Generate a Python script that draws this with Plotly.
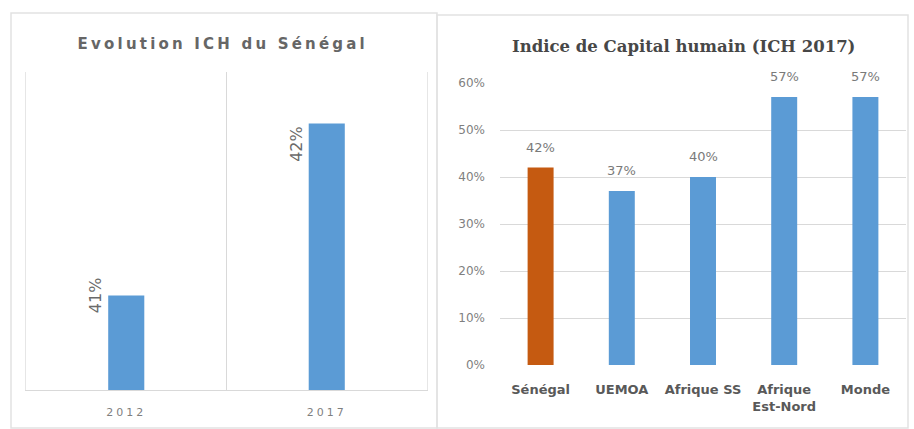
import plotly.graph_objects as go

# ---------------- data ----------------
years = ["2012", "2017"]
ich_senegal = [0.41, 0.42]
label_anchor_left = ["middle", "top"]

regions = ["Sénégal", "UEMOA", "Afrique SS", "Afrique<br>Est-Nord", "Monde"]
ich_2017 = [0.42, 0.37, 0.40, 0.57, 0.57]
region_colors = ["#C55A11", "#5B9BD5", "#5B9BD5", "#5B9BD5", "#5B9BD5"]
y_tickvals = [0, 0.1, 0.2, 0.3, 0.4, 0.5, 0.6]
y_ticktext = ["0%", "10%", "20%", "30%", "40%", "50%", "60%"]

title_left = "Evolution ICH du Sénégal"
title_right = "Indice de Capital humain (ICH 2017)"

W, H = 914, 429
def px(x):
    return x / W
def py(y):
    return 1 - y / H

BLUE = "#5B9BD5"
GRID = "#D9D9D9"
TXT = "#595959"

fig = go.Figure()

# left chart
fig.add_trace(go.Bar(
    x=years, y=ich_senegal, marker=dict(color=BLUE, line=dict(width=0)),
    xaxis="x", yaxis="y", showlegend=False, hoverinfo="skip",
))
# right chart
fig.add_trace(go.Bar(
    x=regions, y=ich_2017, marker=dict(color=region_colors, line=dict(width=0)),
    xaxis="x2", yaxis="y2", showlegend=False, hoverinfo="skip",
))

annotations = []
for i, (yr, v, anc) in enumerate(zip(years, ich_senegal, label_anchor_left)):
    annotations.append(dict(
        x=i, y=v, xref="x", yref="y", text=f"{v:.0%}", showarrow=False,
        textangle=-90, xanchor="right", yanchor=anc, xshift=-19,
        font=dict(family="DejaVu Sans", size=16, color="#6A6A6A"),
    ))
for i, (r, v) in enumerate(zip(regions, ich_2017)):
    annotations.append(dict(
        x=i, y=v, xref="x2", yref="y2", text=f"{v:.0%}", showarrow=False,
        xanchor="center", yanchor="bottom", yshift=11,
        font=dict(family="DejaVu Sans", size=13, color="#7A7A7A"),
    ))
annotations.append(dict(
    x=px(223), y=py(44), xref="paper", yref="paper", text=title_left,
    showarrow=False, xanchor="center", yanchor="middle",
    font=dict(family="DejaVu Sans", size=15, color="#666666", weight="bold"),
))
annotations.append(dict(
    x=px(683), y=py(47), xref="paper", yref="paper", text=title_right,
    showarrow=False, xanchor="center", yanchor="middle",
    font=dict(family="DejaVu Serif", size=16.5, color="#474747", weight="bold"),
))

shapes = [
    dict(type="rect", xref="paper", yref="paper", x0=px(11), x1=px(437),
         y0=py(428), y1=py(13), line=dict(color="#E2E2E2", width=1.5)),
    dict(type="rect", xref="paper", yref="paper", x0=px(437), x1=px(908),
         y0=py(428), y1=py(15), line=dict(color="#E2E2E2", width=1.5)),
]

fig.update_layout(
    width=W, height=H,
    margin=dict(l=0, r=0, t=0, b=0),
    paper_bgcolor="white", plot_bgcolor="white",
    bargap=0.82,
    annotations=annotations,
    shapes=shapes,
    xaxis=dict(
        domain=[px(26), px(427)], anchor="y", type="category",
        range=[-0.5, 1.5], autorange=False,
        showgrid=True, gridcolor=GRID, gridwidth=1, tickson="boundaries",
        ticks="", showline=True, linecolor=GRID, linewidth=1,
        tickfont=dict(family="DejaVu Sans", size=11, color="#7F7F7F"),
        tickangle=0, ticklabelstandoff=12, automargin=False, fixedrange=True,
    ),
    yaxis=dict(
        domain=[py(390), py(72)], anchor="x", range=[0.4045, 0.423],
        autorange=False,
        showgrid=False, showticklabels=False, zeroline=False, ticks="",
        showline=True, mirror=True, linecolor="#E6E6E6", linewidth=1,
        automargin=False, fixedrange=True,
    ),
    xaxis2=dict(
        domain=[px(500), px(906)], anchor="y2", type="category",
        range=[-0.5, 4.5], autorange=False,
        showgrid=False, ticks="", showline=False,
        tickfont=dict(family="DejaVu Sans", size=13, color=TXT, weight="bold"),
        tickangle=0, ticklabelstandoff=15, automargin=False, fixedrange=True,
    ),
    yaxis2=dict(
        domain=[py(365), py(83)], anchor="x2", range=[0, 0.6], autorange=False,
        tickvals=y_tickvals, ticktext=y_ticktext,
        showgrid=True, gridcolor=GRID, gridwidth=1, zeroline=False,
        ticks="", showline=False,
        tickfont=dict(family="DejaVu Sans", size=12, color="#7F7F7F"),
        ticklabelstandoff=14, automargin=False, fixedrange=True,
    ),
)
fig.update_traces(selector=dict(xaxis="x2"), width=0.32)

post = """
document.body.style.margin = '0';
document.body.style.overflow = 'hidden';
var gd = document.getElementById('{plot_id}');
var spacing = {'Evolution ICH du Sénégal': '3.2px', '2012': '3px', '2017': '3px'};
gd.querySelectorAll('text').forEach(function(t){
  var s = spacing[t.textContent];
  if (s) { t.style.letterSpacing = s; }
});
"""

fig.write_html("out.html", config={"displayModeBar": False}, post_script=post)
